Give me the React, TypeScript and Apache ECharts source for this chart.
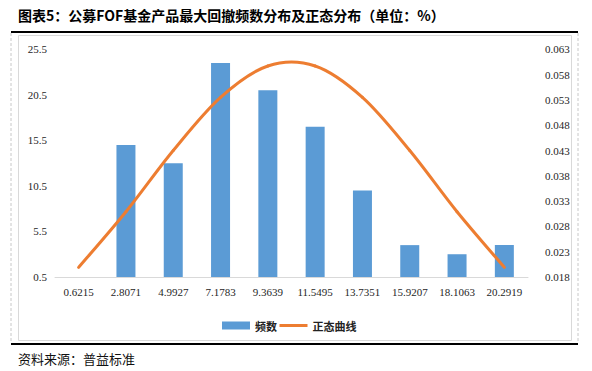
import React, { useEffect, useRef } from "react";
import * as echarts from "echarts";

const categories = ["0.6215", "2.8071", "4.9927", "7.1783", "9.3639", "11.5495", "13.7351", "15.9207", "18.1063", "20.2919"];
const frequency = [0, 15, 13, 24, 21, 17, 10, 4, 3, 4];
const normalCurve = [0.0199, 0.0309, 0.043, 0.0535, 0.0597, 0.0597, 0.0535, 0.043, 0.0309, 0.0199];
const leftTicks = [0.5, 5.5, 10.5, 15.5, 20.5, 25.5];
const rightTicks = [0.018, 0.023, 0.028, 0.033, 0.038, 0.043, 0.048, 0.053, 0.058, 0.063];
const seriesNames = ["频数", "正态曲线"];
const titleText = "图表5：公募FOF基金产品最大回撤频数分布及正态分布（单位：%）";
const sourceText = "资料来源：普益标准";

const axisFont = "'Liberation Serif', 'Times New Roman', serif";
const cjkFont = "'Noto Sans CJK SC', sans-serif";
const ORANGE = "#ED7D31";

export default function App() {
  const ref = useRef<HTMLDivElement>(null);
  useEffect(() => {
    if (!ref.current) return;
    const chart = echarts.init(ref.current, undefined, { renderer: "svg" });
    const n = normalCurve.length;
    chart.setOption({
      animation: false,
      backgroundColor: "#fff",
      grid: { left: 55, right: 64, top: 49.3, bottom: 94, containLabel: false },
      legend: {
        left: 222,
        top: 320,
        padding: 0,
        itemWidth: 28,
        itemHeight: 8,
        itemGap: 1,
        textStyle: { fontFamily: cjkFont, fontSize: 11, fontWeight: "bold", color: "#222" },
        data: [
          { name: seriesNames[0], icon: "rect" },
          {
            name: seriesNames[1],
            lineStyle: { color: ORANGE, width: 3, opacity: 1 },
            itemStyle: { opacity: 0 },
          },
        ],
      },
      xAxis: {
        type: "category",
        data: categories,
        axisLine: { lineStyle: { color: "#D9D9D9", width: 1 } },
        axisTick: { show: false },
        axisLabel: { fontFamily: axisFont, fontSize: 11, color: "#262626", margin: 9 },
      },
      yAxis: [
        {
          type: "value",
          min: 0.5,
          max: 25.5,
          axisLine: { show: false },
          axisTick: { show: false },
          splitLine: { show: false },
          axisLabel: {
            customValues: leftTicks,
            fontFamily: axisFont,
            fontSize: 11,
            color: "#262626",
            margin: 8,
            formatter: (v: number) => v.toFixed(1),
          },
        },
        {
          type: "value",
          min: 0.018,
          max: 0.063,
          axisLine: { show: false },
          axisTick: { show: false },
          splitLine: { show: false },
          axisLabel: {
            customValues: rightTicks,
            fontFamily: axisFont,
            fontSize: 11,
            color: "#262626",
            margin: 17,
            formatter: (v: number) => v.toFixed(3),
          },
        },
      ],
      series: [
        {
          name: seriesNames[0],
          type: "bar",
          yAxisIndex: 0,
          data: frequency,
          barWidth: 19,
          itemStyle: { color: "#5B9BD5" },
          clip: true,
          z: 2,
        },
        {
          name: seriesNames[1],
          type: "line",
          yAxisIndex: 1,
          data: normalCurve,
          symbol: "none",
          silent: true,
          lineStyle: { color: ORANGE, width: 3, opacity: 0 },
          itemStyle: { color: ORANGE },
        },
        {
          name: "curve",
          type: "custom",
          yAxisIndex: 1,
          silent: true,
          z: 5,
          data: normalCurve.map((v, i) => [i, v]),
          renderItem: (params: any, api: any) => {
            const i = params.dataIndex;
            if (i >= n - 1) return null;
            const pt = (k: number) => {
              const c = Math.max(0, Math.min(n - 1, k));
              return api.coord([c, normalCurve[c]]);
            };
            const p0 = pt(i - 1);
            const p1 = pt(i);
            const p2 = pt(i + 1);
            const p3 = pt(i + 2);
            const t = 1 / 6;
            return {
              type: "bezierCurve",
              shape: {
                x1: p1[0],
                y1: p1[1],
                cpx1: p1[0] + (p2[0] - p0[0]) * t,
                cpy1: p1[1] + (p2[1] - p0[1]) * t,
                cpx2: p2[0] - (p3[0] - p1[0]) * t,
                cpy2: p2[1] - (p3[1] - p1[1]) * t,
                x2: p2[0],
                y2: p2[1],
              },
              style: { stroke: ORANGE, lineWidth: 3, fill: "none", lineCap: "round" },
            };
          },
        },
      ],
      graphic: [
        {
          type: "text",
          left: 18,
          top: 8,
          style: {
            text: titleText,
            fontFamily: cjkFont,
            fontSize: 14,
            fontWeight: "bold",
            fill: "#000",
          },
        },
        {
          type: "line",
          shape: { x1: 11, y1: 32, x2: 578, y2: 32 },
          style: { stroke: "#000", lineWidth: 2 },
        },
        {
          type: "line",
          shape: { x1: 11, y1: 33, x2: 11, y2: 343 },
          style: { stroke: "#C8C8C8", lineWidth: 1, lineDash: [3, 2] },
        },
        {
          type: "line",
          shape: { x1: 578, y1: 33, x2: 578, y2: 343 },
          style: { stroke: "#C8C8C8", lineWidth: 1, lineDash: [3, 2] },
        },
        {
          type: "rect",
          shape: { x: 18.5, y: 35.5, width: 553, height: 305 },
          style: { fill: "none", stroke: "#D9D9D9", lineWidth: 1 },
          z: -1,
        },
        {
          type: "line",
          shape: { x1: 11, y1: 344, x2: 578, y2: 344 },
          style: { stroke: "#000", lineWidth: 2 },
        },
        {
          type: "text",
          left: 18,
          top: 352,
          style: {
            text: sourceText,
            fontFamily: cjkFont,
            fontSize: 13,
            fill: "#111",
          },
        },
      ],
    });
    return () => chart.dispose();
  }, []);
  return (
    <div
      ref={ref}
      style={{ position: "absolute", left: 0, top: 0, width: 592, height: 371 }}
    />
  );
}
